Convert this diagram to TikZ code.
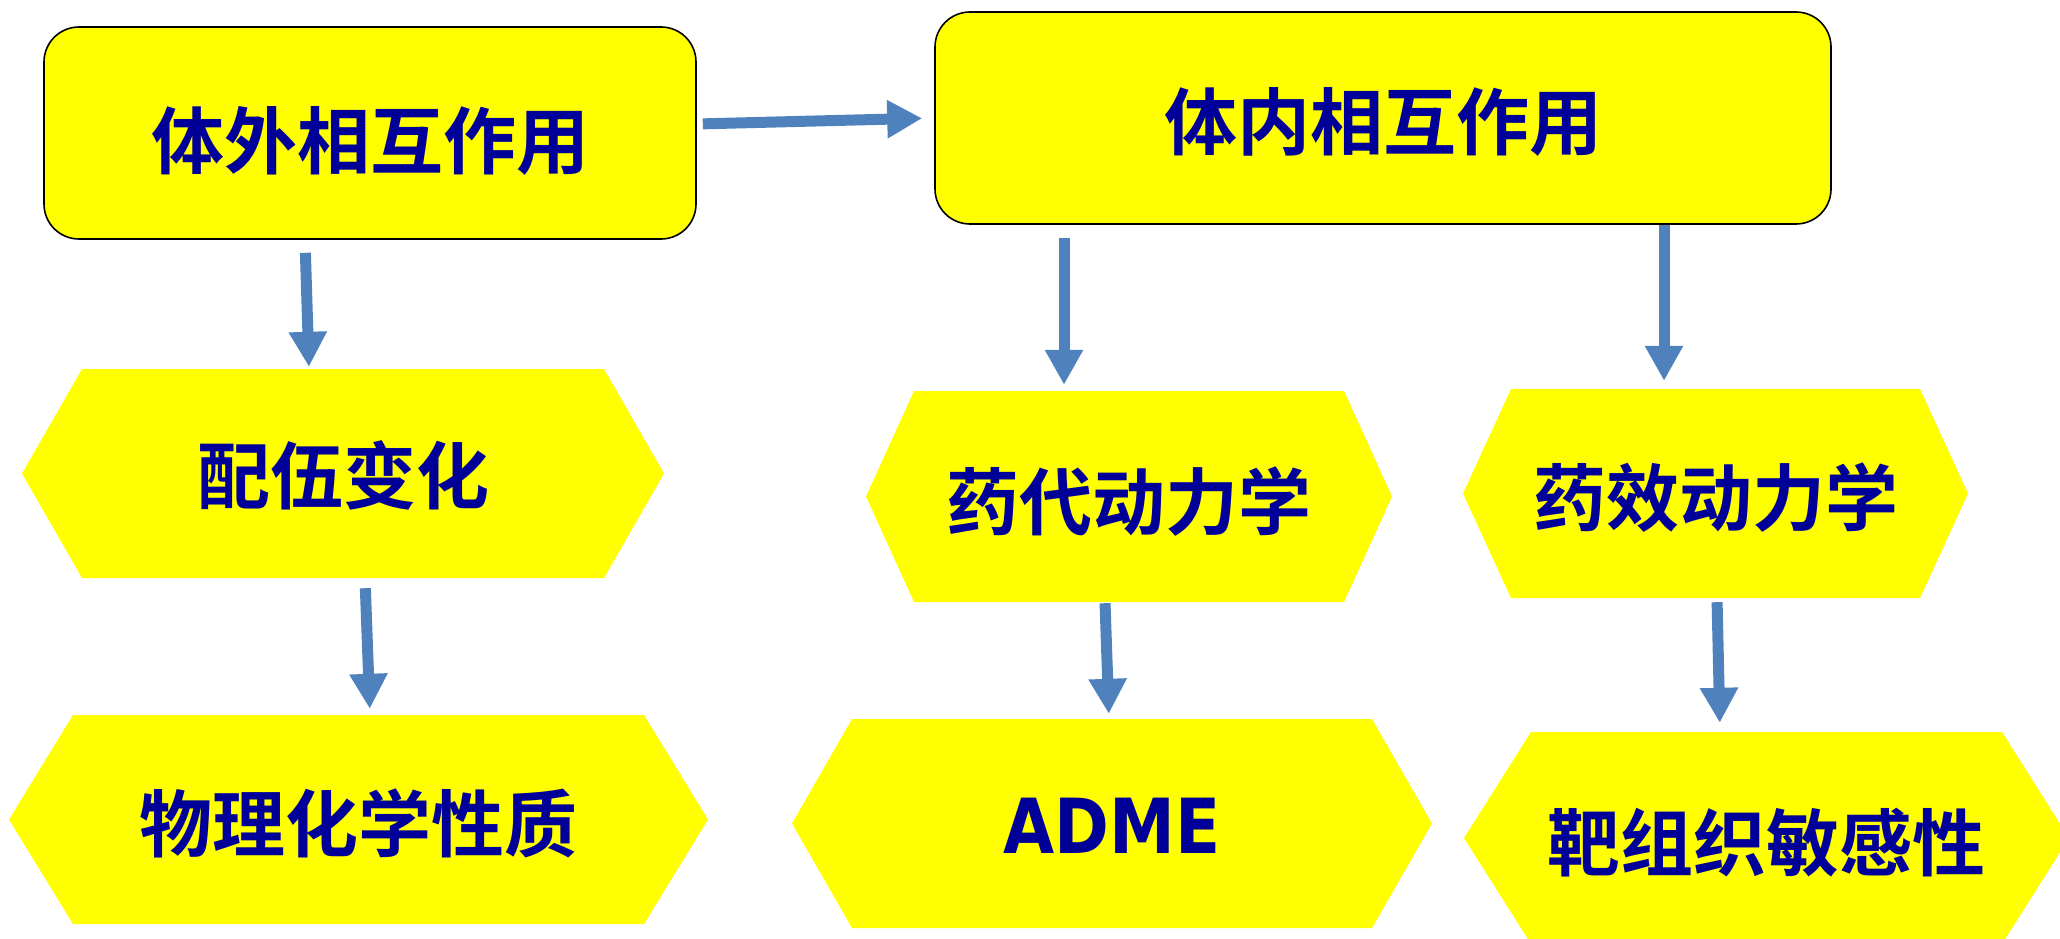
\documentclass[tikz,border=0pt]{standalone}
\usepackage{fontspec}
\newfontfamily\cjk{Noto Sans CJK SC}[BoldFont={Noto Sans CJK SC Bold}]
\newfontfamily\latinbold{DejaVu Sans Bold}
\usetikzlibrary{arrows.meta}
\definecolor{hexyellow}{RGB}{255,255,0}
\definecolor{txtblue}{RGB}{0,0,153}
\definecolor{arrblue}{RGB}{79,129,189}
\newcommand\hexfill[1]{\fill[hexyellow] (path picture bounding box.west) -- ([xshift=#1]path picture bounding box.north west) -- ([xshift=-#1]path picture bounding box.north east) -- (path picture bounding box.east) -- ([xshift=-#1]path picture bounding box.south east) -- ([xshift=#1]path picture bounding box.south west) -- cycle;}
\newcommand\dn[2]{\raisebox{-#1}[\height][\depth]{#2}}
\tikzset{
  lbl/.style={text=txtblue, font=\cjk\bfseries\fontsize{73}{80}\selectfont, inner sep=0pt},
  box/.style={lbl, rectangle, rounded corners=35pt, draw=black, line width=1.6pt, fill=hexyellow},
  hexa/.style={lbl, rectangle, path picture={\hexfill{#1}}},
  arr/.style={draw=arrblue, line width=11pt, -{Triangle[width=36pt,length=35pt]}, arrblue}
}
\begin{document}
\begin{tikzpicture}[x=1pt,y=-1pt]
\useasboundingbox (0,0) rectangle (2060,939);
% top boxes
\node[box, minimum width=652pt, minimum height=212pt] (b1) at (370,133) {\dn{8pt}{体外相互作用}};
\node[box, minimum width=896pt, minimum height=212pt] (b2) at (1383,118) {\dn{4pt}{体内相互作用}};
% hexagons
\node[hexa=60pt, minimum width=642pt, minimum height=209pt] (h1) at (343,473.5) {\dn{2pt}{配伍变化}};
\node[hexa=64pt, minimum width=699pt, minimum height=209pt] (h2) at (358.5,819.5) {\dn{4pt}{物理化学性质}};
\node[hexa=48pt, minimum width=526pt, minimum height=211pt] (h3) at (1129,496.5) {\dn{5pt}{药代动力学}};
\node[hexa=48pt, minimum width=505pt, minimum height=209pt] (h4) at (1715.5,493.5) {\dn{4pt}{药效动力学}};
\node[hexa=60pt, minimum width=640pt, minimum height=209pt] (h5) at (1112,823.5) {\dn{2pt}{\latinbold\fontsize{76}{80}\selectfont\scalebox{0.87}[1]{ADME}}};
\node[hexa=67pt, minimum width=605pt, minimum height=212pt] (h6) at (1766.5,838) {\dn{5pt}{靶组织敏感性}};
% arrows
\draw[arr, shorten <=6pt, shorten >=12pt] ([yshift=9pt]b1.east) -- (b2.west);
\draw[arr, shorten <=13pt, shorten >=2pt] ([xshift=-65pt]b1.south) -- ([xshift=-34pt]h1.north);
\draw[arr, shorten <=10pt, shorten >=6pt] ([xshift=22pt]h1.south) -- ([xshift=11.5pt]h2.north);
\draw[arr, shorten <=13pt, shorten >=6pt] ([xshift=-319pt]b2.south) -- ([xshift=-65pt]h3.north);
\draw[arr, shorten <=0pt, shorten >=8pt] ([xshift=281pt]b2.south) -- ([xshift=-51.5pt]h4.north);
\draw[arr, shorten <=1pt, shorten >=5pt] ([xshift=-24pt]h3.south) -- ([xshift=-3pt]h5.north);
\draw[arr, shorten <=4pt, shorten >=9pt] ([xshift=1.5pt]h4.south) -- ([xshift=-46.5pt]h6.north);
\end{tikzpicture}
\end{document}
